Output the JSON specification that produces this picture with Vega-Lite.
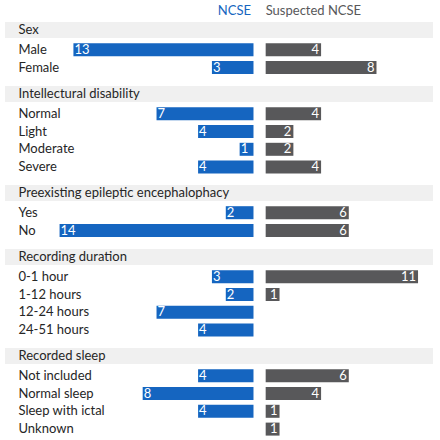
{
  "$schema": "https://vega.github.io/schema/vega-lite/v6.json",
  "padding": {"left": 5, "right": 7, "top": 0, "bottom": 0},
  "spacing": 10,
  "bounds": "flush",
  "config": {
    "view": {"stroke": null},
    "font": "Lato",
    "axisY": {
      "orient": "left",
      "labelAlign": "left",
      "labelBaseline": "middle",
      "labelPadding": -13,
      "labelFontSize": 13,
      "labelFont": "Lato",
      "labelColor": "#262626",
      "labelOffset": {"condition": {"test": "datum.index === 0", "value": -2}, "value": 0},
      "ticks": false,
      "domain": false,
      "grid": false,
      "title": null,
      "labelLimit": 400
    }
  },
  "datasets": {
    "rows": [
      {"section": "Sex", "label": "Sex", "kind": "header", "ncse": null, "susp": null},
      {"section": "Sex", "label": "Male", "kind": "item", "ncse": 13, "susp": 4},
      {"section": "Sex", "label": "Female", "kind": "item", "ncse": 3, "susp": 8},
      {"section": "ID", "label": "Intellectural disability", "kind": "header", "ncse": null, "susp": null},
      {"section": "ID", "label": "Normal", "kind": "item", "ncse": 7, "susp": 4},
      {"section": "ID", "label": "Light", "kind": "item", "ncse": 4, "susp": 2},
      {"section": "ID", "label": "Moderate", "kind": "item", "ncse": 1, "susp": 2},
      {"section": "ID", "label": "Severe", "kind": "item", "ncse": 4, "susp": 4},
      {"section": "PEE", "label": "Preexisting epileptic encephalophacy", "kind": "header", "ncse": null, "susp": null},
      {"section": "PEE", "label": "Yes", "kind": "item", "ncse": 2, "susp": 6},
      {"section": "PEE", "label": "No", "kind": "item", "ncse": 14, "susp": 6},
      {"section": "RD", "label": "Recording duration", "kind": "header", "ncse": null, "susp": null},
      {"section": "RD", "label": "0-1 hour", "kind": "item", "ncse": 3, "susp": 11},
      {"section": "RD", "label": "1-12 hours", "kind": "item", "ncse": 2, "susp": 1},
      {"section": "RD", "label": "12-24 hours", "kind": "item", "ncse": 7, "susp": null},
      {"section": "RD", "label": "24-51 hours", "kind": "item", "ncse": 4, "susp": null},
      {"section": "RS", "label": "Recorded sleep", "kind": "header", "ncse": null, "susp": null},
      {"section": "RS", "label": "Not included", "kind": "item", "ncse": 4, "susp": 6},
      {"section": "RS", "label": "Normal sleep", "kind": "item", "ncse": 8, "susp": 4},
      {"section": "RS", "label": "Sleep with ictal", "kind": "item", "ncse": 4, "susp": 1},
      {"section": "RS", "label": "Unknown", "kind": "item", "ncse": null, "susp": 1}
    ],
    "cols": [
      {"col": "NCSE"},
      {"col": "Suspected NCSE"}
    ]
  },
  "vconcat": [
    {
      "width": 428,
      "height": 13,
      "data": {"name": "cols"},
      "layer": [
        {
          "transform": [{"filter": "datum.col === 'NCSE'"}],
          "mark": {"type": "text", "align": "right", "dx": -2.5, "dy": 4.5, "fontSize": 13, "color": "#1565c0"},
          "encoding": {
            "x": {"datum": 0, "type": "quantitative", "scale": {"domain": [-12.96, 17.94], "reverse": true}, "axis": null},
            "text": {"field": "col"}
          }
        },
        {
          "transform": [{"filter": "datum.col === 'Suspected NCSE'"}],
          "mark": {"type": "text", "align": "left", "dx": 0, "dy": 4.5, "fontSize": 13, "color": "#58585a"},
          "encoding": {
            "x": {"datum": 0, "type": "quantitative", "scale": {"domain": [-18.82, 12.08]}, "axis": null},
            "text": {"field": "col"}
          }
        }
      ],
      "resolve": {"scale": {"x": "independent"}}
    },
    {
      "width": 428,
      "height": {"step": 17.8},
      "data": {"name": "rows"},
      "transform": [{"filter": "datum.section === 'Sex'"}],
      "encoding": {
        "y": {"field": "label", "type": "nominal", "scale": {"domain": ["Sex", "Male", "Female"], "paddingInner": 0, "paddingOuter": 0}, "axis": {"zindex": 2}}
      },
      "layer": [
        {"transform": [{"filter": "datum.kind === 'header'"}], "mark": {"type": "bar", "color": "#f0f0f0", "height": 16, "yOffset": -2}},
        {"transform": [{"filter": "isValid(datum.ncse)"}], "mark": {"type": "bar", "color": "#1565c0", "height": 13},
          "encoding": {"x": {"field": "ncse", "type": "quantitative", "scale": {"domain": [-12.96, 17.94], "reverse": true}, "axis": null}, "x2": {"datum": 0}}},
        {"transform": [{"filter": "isValid(datum.ncse)"}], "mark": {"type": "text", "align": "left", "dx": 1, "color": "white", "fontSize": 13},
          "encoding": {"x": {"field": "ncse", "type": "quantitative", "scale": {"domain": [-12.96, 17.94], "reverse": true}, "axis": null}, "text": {"field": "ncse"}}},
        {"transform": [{"filter": "isValid(datum.susp)"}], "mark": {"type": "bar", "color": "#58585a", "height": 13},
          "encoding": {"x": {"field": "susp", "type": "quantitative", "scale": {"domain": [-18.82, 12.08]}, "axis": null}, "x2": {"datum": 0}}},
        {"transform": [{"filter": "isValid(datum.susp)"}], "mark": {"type": "text", "align": "right", "dx": -2, "color": "white", "fontSize": 13},
          "encoding": {"x": {"field": "susp", "type": "quantitative", "scale": {"domain": [-18.82, 12.08]}, "axis": null}, "text": {"field": "susp"}}}
      ],
      "resolve": {"scale": {"x": "independent"}}
    },
    {
      "width": 428,
      "height": {"step": 17.8},
      "data": {"name": "rows"},
      "transform": [{"filter": "datum.section === 'ID'"}],
      "encoding": {
        "y": {"field": "label", "type": "nominal", "scale": {"domain": ["Intellectural disability", "Normal", "Light", "Moderate", "Severe"], "paddingInner": 0, "paddingOuter": 0}, "axis": {"zindex": 2}}
      },
      "layer": [
        {"transform": [{"filter": "datum.kind === 'header'"}], "mark": {"type": "bar", "color": "#f0f0f0", "height": 16, "yOffset": -2}},
        {"transform": [{"filter": "isValid(datum.ncse)"}], "mark": {"type": "bar", "color": "#1565c0", "height": 13},
          "encoding": {"x": {"field": "ncse", "type": "quantitative", "scale": {"domain": [-12.96, 17.94], "reverse": true}, "axis": null}, "x2": {"datum": 0}}},
        {"transform": [{"filter": "isValid(datum.ncse)"}], "mark": {"type": "text", "align": "left", "dx": 1, "color": "white", "fontSize": 13},
          "encoding": {"x": {"field": "ncse", "type": "quantitative", "scale": {"domain": [-12.96, 17.94], "reverse": true}, "axis": null}, "text": {"field": "ncse"}}},
        {"transform": [{"filter": "isValid(datum.susp)"}], "mark": {"type": "bar", "color": "#58585a", "height": 13},
          "encoding": {"x": {"field": "susp", "type": "quantitative", "scale": {"domain": [-18.82, 12.08]}, "axis": null}, "x2": {"datum": 0}}},
        {"transform": [{"filter": "isValid(datum.susp)"}], "mark": {"type": "text", "align": "right", "dx": -2, "color": "white", "fontSize": 13},
          "encoding": {"x": {"field": "susp", "type": "quantitative", "scale": {"domain": [-18.82, 12.08]}, "axis": null}, "text": {"field": "susp"}}}
      ],
      "resolve": {"scale": {"x": "independent"}}
    },
    {
      "width": 428,
      "height": {"step": 17.8},
      "data": {"name": "rows"},
      "transform": [{"filter": "datum.section === 'PEE'"}],
      "encoding": {
        "y": {"field": "label", "type": "nominal", "scale": {"domain": ["Preexisting epileptic encephalophacy", "Yes", "No"], "paddingInner": 0, "paddingOuter": 0}, "axis": {"zindex": 2}}
      },
      "layer": [
        {"transform": [{"filter": "datum.kind === 'header'"}], "mark": {"type": "bar", "color": "#f0f0f0", "height": 16, "yOffset": -2}},
        {"transform": [{"filter": "isValid(datum.ncse)"}], "mark": {"type": "bar", "color": "#1565c0", "height": 13},
          "encoding": {"x": {"field": "ncse", "type": "quantitative", "scale": {"domain": [-12.96, 17.94], "reverse": true}, "axis": null}, "x2": {"datum": 0}}},
        {"transform": [{"filter": "isValid(datum.ncse)"}], "mark": {"type": "text", "align": "left", "dx": 1, "color": "white", "fontSize": 13},
          "encoding": {"x": {"field": "ncse", "type": "quantitative", "scale": {"domain": [-12.96, 17.94], "reverse": true}, "axis": null}, "text": {"field": "ncse"}}},
        {"transform": [{"filter": "isValid(datum.susp)"}], "mark": {"type": "bar", "color": "#58585a", "height": 13},
          "encoding": {"x": {"field": "susp", "type": "quantitative", "scale": {"domain": [-18.82, 12.08]}, "axis": null}, "x2": {"datum": 0}}},
        {"transform": [{"filter": "isValid(datum.susp)"}], "mark": {"type": "text", "align": "right", "dx": -2, "color": "white", "fontSize": 13},
          "encoding": {"x": {"field": "susp", "type": "quantitative", "scale": {"domain": [-18.82, 12.08]}, "axis": null}, "text": {"field": "susp"}}}
      ],
      "resolve": {"scale": {"x": "independent"}}
    },
    {
      "width": 428,
      "height": {"step": 17.8},
      "data": {"name": "rows"},
      "transform": [{"filter": "datum.section === 'RD'"}],
      "encoding": {
        "y": {"field": "label", "type": "nominal", "scale": {"domain": ["Recording duration", "0-1 hour", "1-12 hours", "12-24 hours", "24-51 hours"], "paddingInner": 0, "paddingOuter": 0}, "axis": {"zindex": 2}}
      },
      "layer": [
        {"transform": [{"filter": "datum.kind === 'header'"}], "mark": {"type": "bar", "color": "#f0f0f0", "height": 16, "yOffset": -2}},
        {"transform": [{"filter": "isValid(datum.ncse)"}], "mark": {"type": "bar", "color": "#1565c0", "height": 13},
          "encoding": {"x": {"field": "ncse", "type": "quantitative", "scale": {"domain": [-12.96, 17.94], "reverse": true}, "axis": null}, "x2": {"datum": 0}}},
        {"transform": [{"filter": "isValid(datum.ncse)"}], "mark": {"type": "text", "align": "left", "dx": 1, "color": "white", "fontSize": 13},
          "encoding": {"x": {"field": "ncse", "type": "quantitative", "scale": {"domain": [-12.96, 17.94], "reverse": true}, "axis": null}, "text": {"field": "ncse"}}},
        {"transform": [{"filter": "isValid(datum.susp)"}], "mark": {"type": "bar", "color": "#58585a", "height": 13},
          "encoding": {"x": {"field": "susp", "type": "quantitative", "scale": {"domain": [-18.82, 12.08]}, "axis": null}, "x2": {"datum": 0}}},
        {"transform": [{"filter": "isValid(datum.susp)"}], "mark": {"type": "text", "align": "right", "dx": -2, "color": "white", "fontSize": 13},
          "encoding": {"x": {"field": "susp", "type": "quantitative", "scale": {"domain": [-18.82, 12.08]}, "axis": null}, "text": {"field": "susp"}}}
      ],
      "resolve": {"scale": {"x": "independent"}}
    },
    {
      "width": 428,
      "height": {"step": 17.8},
      "data": {"name": "rows"},
      "transform": [{"filter": "datum.section === 'RS'"}],
      "encoding": {
        "y": {"field": "label", "type": "nominal", "scale": {"domain": ["Recorded sleep", "Not included", "Normal sleep", "Sleep with ictal", "Unknown"], "paddingInner": 0, "paddingOuter": 0}, "axis": {"zindex": 2}}
      },
      "layer": [
        {"transform": [{"filter": "datum.kind === 'header'"}], "mark": {"type": "bar", "color": "#f0f0f0", "height": 16, "yOffset": -2}},
        {"transform": [{"filter": "isValid(datum.ncse)"}], "mark": {"type": "bar", "color": "#1565c0", "height": 13},
          "encoding": {"x": {"field": "ncse", "type": "quantitative", "scale": {"domain": [-12.96, 17.94], "reverse": true}, "axis": null}, "x2": {"datum": 0}}},
        {"transform": [{"filter": "isValid(datum.ncse)"}], "mark": {"type": "text", "align": "left", "dx": 1, "color": "white", "fontSize": 13},
          "encoding": {"x": {"field": "ncse", "type": "quantitative", "scale": {"domain": [-12.96, 17.94], "reverse": true}, "axis": null}, "text": {"field": "ncse"}}},
        {"transform": [{"filter": "isValid(datum.susp)"}], "mark": {"type": "bar", "color": "#58585a", "height": 13},
          "encoding": {"x": {"field": "susp", "type": "quantitative", "scale": {"domain": [-18.82, 12.08]}, "axis": null}, "x2": {"datum": 0}}},
        {"transform": [{"filter": "isValid(datum.susp)"}], "mark": {"type": "text", "align": "right", "dx": -2, "color": "white", "fontSize": 13},
          "encoding": {"x": {"field": "susp", "type": "quantitative", "scale": {"domain": [-18.82, 12.08]}, "axis": null}, "text": {"field": "susp"}}}
      ],
      "resolve": {"scale": {"x": "independent"}}
    }
  ]
}
